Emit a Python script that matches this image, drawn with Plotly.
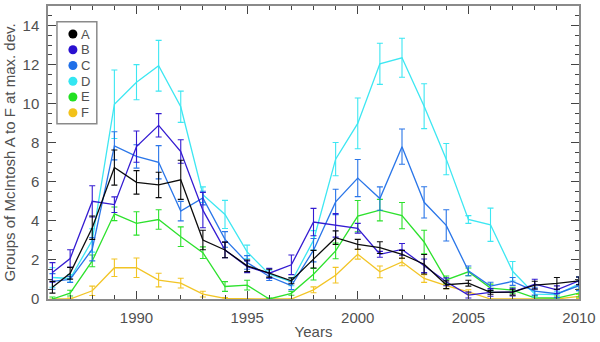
import plotly.graph_objects as go

years = [1986.2] + list(range(1987, 2011))

labels = ["A", "B", "C", "D", "E", "F"]
colors = ["#000000", "#2a10d0", "#1f6fe8", "#33e6f2", "#22e022", "#f2c21a"]

a_vals = [0.6, 1.32, 3.65, 6.73, 5.97, 5.84, 6.1, 3.02, 2.51, 1.7, 1.32, 0.93, 2.04,
          3.14, 2.8, 2.63, 2.29, 1.78, 0.73, 0.81, 0.34, 0.35, 0.71, 0.8, 0.93]
a_err = [0.3, 0.3, 0.6, 0.9, 0.6, 0.65, 1.0, 0.5, 0.4, 0.3, 0.2, 0.15, 0.45,
         0.35, 0.25, 0.3, 0.2, 0.5, 0.2, 0.15, 0.1, 0.15, 0.2, 0.3, 0.2]

b_vals = [1.36, 2.07, 5.0, 4.83, 7.8, 8.89, 7.55, 4.55, 2.51, 1.65, 1.32, 1.75, 3.94,
          3.77, 3.62, 2.29, 2.54, 1.7, 0.88, 0.2, 0.34, 0.35, 0.76, 0.47, 0.93]
b_err = [0.5, 0.45, 0.8, 0.4, 0.8, 0.6, 0.6, 0.9, 0.4, 0.3, 0.25, 0.5, 0.7,
         0.6, 0.25, 0.15, 0.3, 0.35, 0.2, 0.15, 0.2, 0.2, 0.25, 0.2, 0.2]

c_vals = [0.9, 1.0, 2.55, 7.84, 7.3, 7.0, 4.5, 5.17, 3.05, 1.87, 1.15, 0.68, 2.5,
          4.97, 6.19, 5.14, 7.8, 4.95, 3.77, 1.44, 0.66, 0.9, 0.4, 0.27, 0.68]
c_err = [0.4, 0.15, 0.6, 0.72, 0.6, 0.85, 0.5, 0.35, 0.4, 0.35, 0.2, 0.2, 0.6,
         0.65, 0.95, 0.6, 0.9, 0.8, 0.8, 0.25, 0.2, 0.2, 0.2, 0.2, 0.25]

d_vals = [1.1, 1.05, 3.0, 9.97, 11.1, 11.94, 9.84, 5.34, 4.33, 2.41, 1.27, 0.88, 3.0,
          7.16, 8.99, 12.04, 12.35, 9.87, 7.16, 4.07, 3.8, 1.42, 0.25, 0.22, 0.78]
d_err = [0.5, 0.2, 0.6, 1.75, 0.9, 1.3, 0.8, 0.4, 0.72, 0.35, 0.2, 0.2, 0.5,
         0.85, 1.3, 1.05, 1.0, 1.15, 0.8, 0.2, 0.85, 0.5, 0.15, 0.15, 0.35]

e_vals = [0.0, 0.3, 1.95, 4.36, 3.87, 4.07, 3.19, 2.37, 0.64, 0.71, 0.0, 0.29, 1.27,
          2.46, 4.24, 4.55, 4.27, 2.92, 0.98, 1.39, 0.56, 0.45, 0.06, 0.05, 0.3]
e_err = [0.1, 0.15, 0.3, 0.35, 0.6, 0.5, 0.5, 0.3, 0.25, 0.25, 0.05, 0.1, 0.3,
         0.4, 0.8, 0.55, 0.67, 0.6, 0.2, 0.2, 0.2, 0.15, 0.1, 0.1, 0.2]

f_vals = [0.0, 0.0, 0.42, 1.6, 1.6, 0.97, 0.81, 0.25, 0.03, 0.0, 0.0, 0.0, 0.47,
          1.22, 2.29, 1.39, 1.9, 1.05, 0.68, 0.37, 0.0, 0.0, 0.0, 0.0, 0.13]
f_err = [0.0, 0.05, 0.24, 0.45, 0.5, 0.35, 0.25, 0.15, 0.05, 0.0, 0.0, 0.0, 0.15,
         0.4, 0.25, 0.3, 0.2, 0.2, 0.15, 0.1, 0.0, 0.0, 0.0, 0.0, 0.1]

series = [
    (a_vals, a_err),
    (b_vals, b_err),
    (c_vals, c_err),
    (d_vals, d_err),
    (e_vals, e_err),
    (f_vals, f_err),
]

text_col = "#505050"
axis_col = "#8a8a8a"
tick_col = "#444444"
font_family = "Liberation Sans, Arial, sans-serif"

# plot area in pixels (width 600 - 48 - 19, height 342 - 4 - 42)
plot_w, plot_h = 533, 296


def px_x(px):
    """Paper x fraction for a pixel offset from the plot's left edge."""
    return px / plot_w


def px_y(px):
    """Paper y fraction for a pixel offset from the plot's top edge."""
    return 1 - px / plot_h


fig = go.Figure()

# draw F first so the darker series sit on top
for (vals, err), color in reversed(list(zip(series, colors))):
    fig.add_trace(
        go.Scatter(
            x=years,
            y=vals,
            mode="lines",
            line=dict(color=color, width=1.3),
            error_y=dict(
                type="data",
                symmetric=True,
                array=err,
                color=color,
                thickness=1.1,
                width=3,
            ),
            opacity=0.95,
            showlegend=False,
            hoverinfo="skip",
        )
    )

# hand-made legend: markers on an overlay axis in pixel units, labels as annotations
legend_x, legend_y0, legend_step = 25, 28.3, 15.9
legend_rows = [legend_y0 + i * legend_step for i in range(len(labels))]
fig.add_trace(
    go.Scatter(
        x=[legend_x] * len(labels),
        y=legend_rows,
        mode="markers",
        marker=dict(color=colors, size=9),
        xaxis="x2",
        yaxis="y2",
        showlegend=False,
        hoverinfo="skip",
    )
)
for label, row in zip(labels, legend_rows):
    fig.add_annotation(
        x=px_x(legend_x + 7),
        y=px_y(row),
        xref="paper",
        yref="paper",
        text=label,
        showarrow=False,
        xanchor="left",
        yanchor="middle",
        borderpad=0,
        font=dict(size=13, color=text_col),
    )
fig.add_shape(
    type="rect",
    xref="paper",
    yref="paper",
    x0=px_x(9),
    x1=px_x(49),
    y0=px_y(119),
    y1=px_y(16),
    line=dict(color=axis_col, width=1.5),
    fillcolor="rgba(0,0,0,0)",
    layer="above",
)

fig.update_layout(
    width=600,
    height=342,
    margin=dict(l=48, r=19, t=4, b=42),
    paper_bgcolor="white",
    plot_bgcolor="white",
    font=dict(family=font_family, size=15, color=text_col),
    showlegend=False,
    xaxis=dict(
        range=[1986, 2010],
        tickvals=[1990, 1995, 2000, 2005, 2010],
        ticks="inside",
        ticklen=8,
        tickcolor=tick_col,
        minor=dict(dtick=1, ticks="inside", ticklen=4, tickcolor=tick_col),
        showline=True,
        linecolor=axis_col,
        linewidth=1.5,
        mirror="ticks",
        showgrid=False,
        zeroline=False,
        ticklabelstandoff=4,
        title=dict(text="Years", standoff=2, font=dict(size=15)),
        tickfont=dict(size=15),
    ),
    yaxis=dict(
        range=[0, 15],
        dtick=2,
        ticks="inside",
        ticklen=8,
        tickcolor=tick_col,
        minor=dict(dtick=0.5, ticks="inside", ticklen=4, tickcolor=tick_col),
        showline=True,
        linecolor=axis_col,
        linewidth=1.5,
        mirror="ticks",
        showgrid=False,
        zeroline=False,
        ticklabelstandoff=4,
        title=dict(text="Groups of McIntosh A to F at max. dev.", standoff=3,
                   font=dict(size=15)),
        tickfont=dict(size=15),
    ),
    xaxis2=dict(range=[0, plot_w], overlaying="x", visible=False, fixedrange=True),
    yaxis2=dict(range=[plot_h, 0], overlaying="y", visible=False, fixedrange=True),
)

fig.write_html(
    "out.html",
    config={"displayModeBar": False},
    post_script="document.body.style.margin='0';",
)
